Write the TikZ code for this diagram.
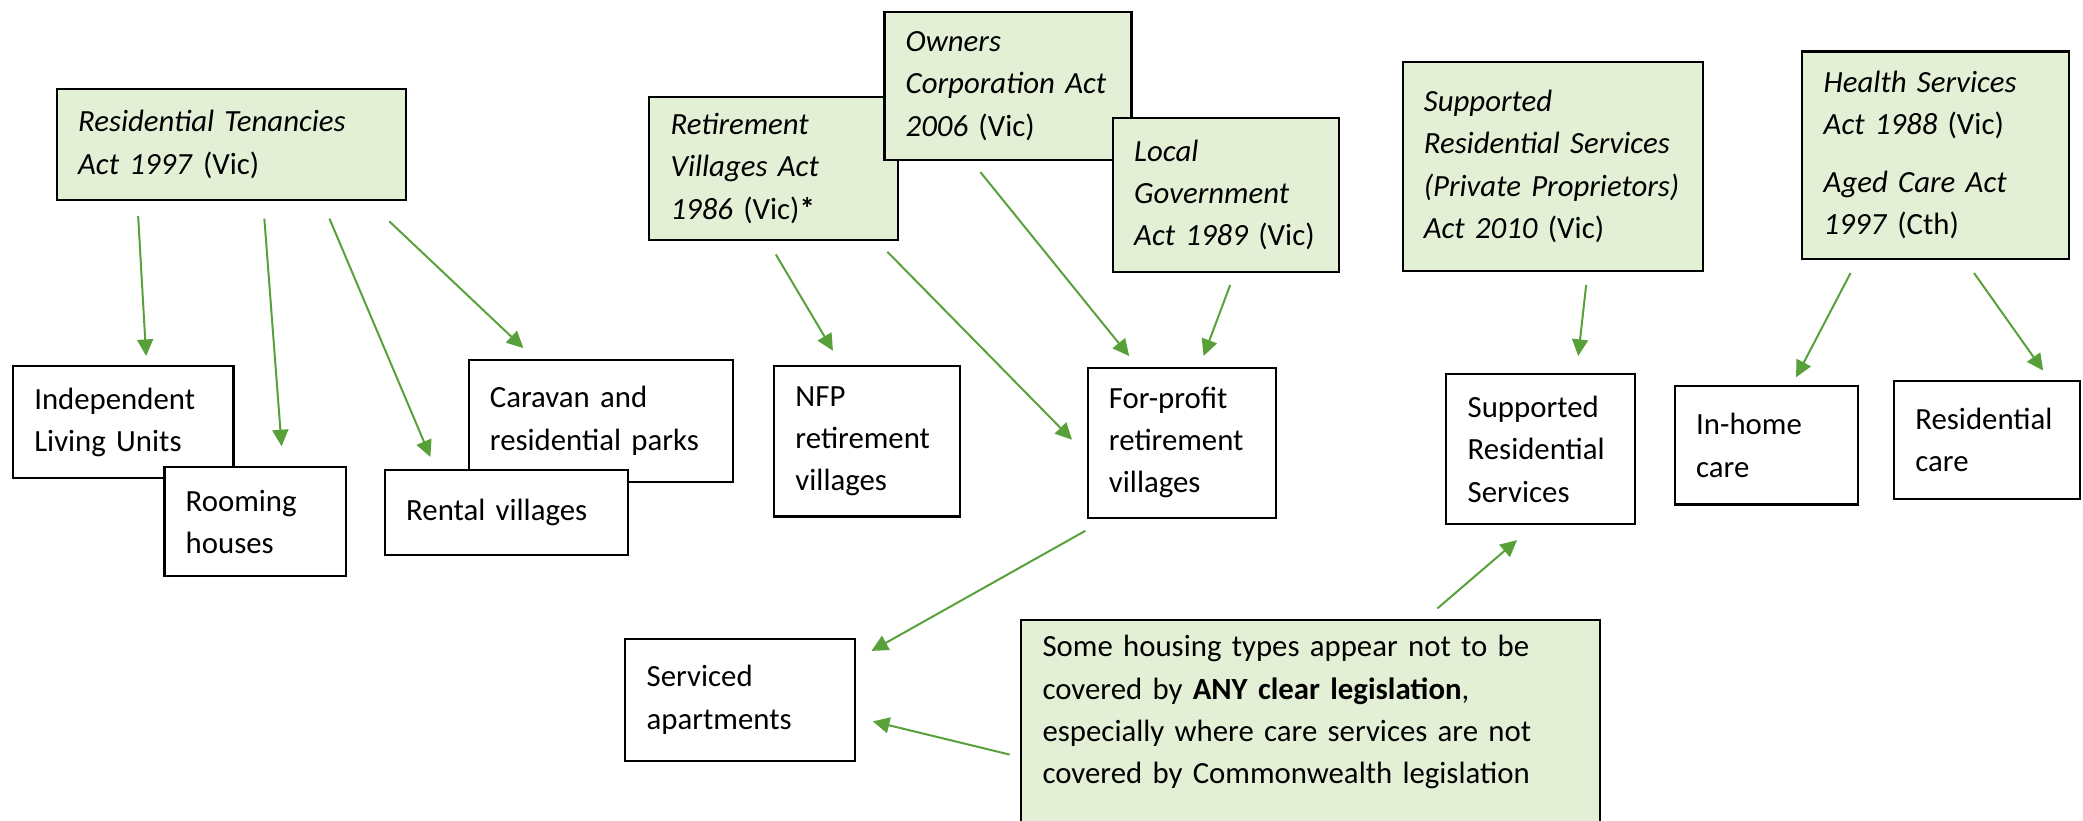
\documentclass[tikz,border=0pt]{standalone}
\usepackage{fontspec}
\setmainfont{Carlito}
\usetikzlibrary{arrows.meta}
\definecolor{lawfill}{HTML}{E4F0D6}
\definecolor{arrowgreen}{HTML}{58A03A}
\hyphenpenalty=10000
\exhyphenpenalty=10000
\begin{document}
\begin{tikzpicture}[x=0.02cm,y=-0.02cm]
\tikzstyle{housebox} = [draw, line width=0.9pt, fill=white, anchor=north west, align=left, inner xsep=0.32cm, inner ysep=0pt, font=\fontsize{13.2}{18.1}\selectfont] % housing type
\tikzstyle{lawbox} = [housebox, fill=lawfill] % legislation box
\tikzstyle{arr} = [draw=arrowgreen, line width=0.85pt, -{Triangle[length=0.25cm,width=0.24cm]}] % green arrow
\clip (0,0) rectangle (1568,618);
% housing types
\node[housebox, minimum width=3.32cm, text width=2.68cm, minimum height=1.68cm] (ilu) at (9,275) {Independent\\ Living Units};
\node[housebox, minimum width=2.74cm, text width=2.10cm, minimum height=1.64cm] (rooming) at (123,351) {Rooming\\ houses};
\node[housebox, minimum width=3.98cm, text width=3.34cm, minimum height=1.84cm] (caravan) at (352,270) {Caravan and\\ residential parks};
\node[housebox, minimum width=3.66cm, text width=3.02cm, minimum height=1.28cm] (rental) at (289,353) {Rental villages\\[-5pt]};
\node[housebox, minimum width=2.80cm, text width=2.16cm, minimum height=2.26cm] (nfp) at (582,275) {NFP\\ retirement\\ villages};
\node[housebox, minimum width=2.84cm, text width=2.20cm, minimum height=2.26cm] (forprofit) at (818,276) {For-profit\\ retirement\\ villages};
\node[housebox, minimum width=2.84cm, text width=2.20cm, minimum height=2.26cm] (srs) at (1088,281) {Supported\\ Residential\\ Services};
\node[housebox, minimum width=2.76cm, text width=2.12cm, minimum height=1.78cm] (inhome) at (1260,290) {In-home\\ care};
\node[housebox, minimum width=2.80cm, text width=2.16cm, minimum height=1.78cm] (rescare) at (1425,286) {Residential\\ care};
\node[housebox, minimum width=3.46cm, text width=2.82cm, minimum height=1.84cm] (serviced) at (470,480) {Serviced\\ apartments};
\node[lawbox, minimum width=8.72cm, text width=8.08cm, minimum height=3.52cm] (note) at (768,466) {Some housing types appear not to be\\ covered by \textbf{ANY clear legislation},\\ especially where care services are not\\ covered by Commonwealth legislation\\ \strut};
% legislation
\node[lawbox, minimum width=5.26cm, text width=4.62cm, minimum height=1.68cm] (rta) at (42,66) {\textit{Residential Tenancies}\\ \textit{Act 1997} (Vic)};
\node[lawbox, minimum width=3.74cm, text width=3.10cm, minimum height=2.16cm] (rva) at (488,72) {\textit{Retirement}\\ \textit{Villages Act}\\ \textit{1986} (Vic)\textbf{*}};
\node[lawbox, minimum width=3.72cm, text width=3.08cm, minimum height=2.24cm] (oca) at (665,8) {\textit{Owners}\\ \textit{Corporation Act}\\ \textit{2006} (Vic)};
\node[lawbox, minimum width=3.40cm, text width=2.76cm, minimum height=2.32cm] (lga) at (837,88) {\textit{Local}\\ \textit{Government}\\ \textit{Act 1989} (Vic)};
\node[lawbox, minimum width=4.52cm, text width=3.88cm, minimum height=3.14cm] (srsa) at (1055,46) {\textit{Supported}\\ \textit{Residential Services}\\ \mbox{\textit{(Private Proprietors)}}\\ \textit{Act 2010} (Vic)};
\node[lawbox, minimum width=4.02cm, text width=3.38cm, minimum height=3.12cm] (hsa) at (1356,38) {\textit{Health Services}\\ \textit{Act 1988} (Vic)\\[6.8pt] \textit{Aged Care Act}\\ \textit{1997} (Cth)};
% arrows
\draw[arr] ([shift={(62,11)}]rta.south west) -- ([shift={(101,-7)}]ilu.north west);
\draw[arr] ([shift={(157,13)}]rta.south west) -- ([shift={(89,-15)}]rooming.north west);
\draw[arr] ([shift={(206,13)}]rta.south west) -- ([shift={(35,-9)}]rental.north west);
\draw[arr] ([shift={(251,15)}]rta.south west) -- ([shift={(42,-8)}]caravan.north west);
\draw[arr] ([shift={(96,10)}]rva.south west) -- ([shift={(45,-11)}]nfp.north west);
\draw[arr] ([shift={(180,8)}]rva.south west) -- ([shift={(-11,55)}]forprofit.north west);
\draw[arr] ([shift={(73,8)}]oca.south west) -- ([shift={(32,-8)}]forprofit.north west);
\draw[arr] ([shift={(89,9)}]lga.south west) -- ([shift={(88,-8)}]forprofit.north west);
\draw[arr] ([shift={(139,10)}]srsa.south west) -- ([shift={(100,-13)}]srs.north west);
\draw[arr] ([shift={(37,10)}]hsa.south west) -- ([shift={(92,-6)}]inhome.north west);
\draw[arr] ([shift={(130,10)}]hsa.south west) -- ([shift={(113,-7)}]rescare.north west);
\draw[arr] ([shift={(-1,9)}]forprofit.south west) -- ([shift={(186,10)}]serviced.north west);
\draw[arr] ([shift={(-8,102)}]note.north west) -- ([shift={(187,63)}]serviced.north west);
\draw[arr] ([shift={(314,-8)}]note.north west) -- ([shift={(54,11)}]srs.south west);
\end{tikzpicture}
\end{document}
